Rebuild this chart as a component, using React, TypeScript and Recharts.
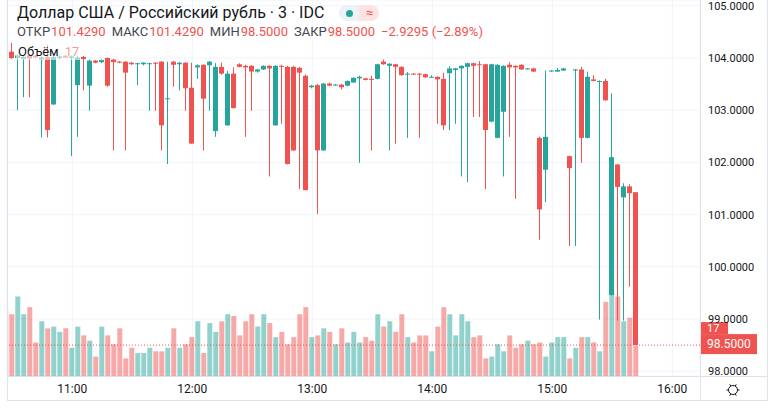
import React from 'react'
import {
  ComposedChart,
  Bar,
  XAxis,
  YAxis,
  CartesianGrid,
  ReferenceLine,
  Cell,
} from 'recharts'

const UP = '#26a69a'
const DOWN = '#ef5350'
const UP_VOL = 'rgba(38, 166, 154, 0.5)'
const DOWN_VOL = 'rgba(239, 83, 80, 0.5)'
const GRID = '#f0f3fa'
const BORDER = '#e0e3eb'
const TEXT = '#131722'
const FONT = 'Roboto, "Noto Sans", sans-serif'

// 3-minute bars, USD/RUB (IDC)
const times = [
  '10:27', '10:30', '10:33', '10:36', '10:39', '10:42', '10:45', '10:48', '10:51', '10:54', '10:57',
  '11:00', '11:03', '11:06', '11:09', '11:12', '11:15', '11:18', '11:21', '11:24', '11:27',
  '11:30', '11:33', '11:36', '11:39', '11:42', '11:45', '11:48', '11:51', '11:54', '11:57',
  '12:00', '12:03', '12:06', '12:09', '12:12', '12:15', '12:18', '12:21', '12:24', '12:27',
  '12:30', '12:33', '12:36', '12:39', '12:42', '12:45', '12:48', '12:51', '12:54', '12:57',
  '13:00', '13:03', '13:06', '13:09', '13:12', '13:15', '13:18', '13:21', '13:24', '13:27',
  '13:30', '13:33', '13:36', '13:39', '13:42', '13:45', '13:48', '13:51', '13:54', '13:57',
  '14:00', '14:03', '14:06', '14:09', '14:12', '14:15', '14:18', '14:21', '14:24', '14:27',
  '14:30', '14:33', '14:36', '14:39', '14:42', '14:45', '14:48', '14:51', '14:54', '14:57',
  '15:00', '15:03', '15:06', '15:09', '15:12', '15:15', '15:18', '15:21', '15:24', '15:27',
  '15:30', '15:33', '15:36', '15:39', '15:42',
]

const opens = [
  104.48, 104.12, 104.0, 103.98, 104.05, 104.04, 103.97, 104.02, 103.11, 104.0,
  104.04, 104.0, 103.48, 104.02, 103.47, 103.95, 103.92, 104.0, 103.97, 103.93,
  103.93, 103.91, 103.88, 103.88, 103.89, 103.91, 103.93, 103.21, 103.93, 103.88,
  103.91, 103.43, 103.82, 103.87, 103.86, 102.6, 103.83, 102.71, 103.7, 103.88,
  103.85, 103.85, 103.74, 103.78, 103.85, 102.71, 103.85, 103.83, 103.83, 103.81,
  103.66, 103.44, 103.48, 102.23, 103.51, 103.48, 103.49, 103.47, 103.53, 103.61,
  103.61, 103.6, 103.6, 103.93, 103.85, 103.88, 103.83, 103.69, 103.7, 103.7,
  103.69, 103.63, 103.64, 103.6, 103.71, 103.77, 103.8, 103.83, 103.9, 103.88,
  103.88, 102.78, 102.47, 102.97, 103.87, 103.85, 103.87, 103.79, 103.8, 102.47,
  101.86, 103.75, 103.74, 103.76, 102.12, 103.76, 103.78, 102.47, 103.59, 103.55,
  103.56, 99.46, 101.96, 101.33, 101.54, 101.429,
]

const highs = [
  104.5, 104.29, 104.06, 104.05, 104.07, 104.06, 104.03, 104.25, 104.04, 104.05,
  104.06, 104.05, 104.05, 104.04, 103.97, 103.96, 103.97, 104.01, 103.98, 103.94,
  103.94, 103.92, 103.91, 103.92, 103.91, 103.92, 103.94, 103.93, 103.94, 103.92,
  103.92, 103.91, 103.88, 103.88, 103.94, 103.9, 103.91, 103.75, 103.82, 103.9,
  103.87, 103.86, 103.79, 103.86, 103.86, 103.86, 103.87, 103.85, 103.85, 103.83,
  103.68, 103.48, 103.5, 103.52, 103.53, 103.5, 103.5, 103.57, 103.63, 103.66,
  103.62, 103.66, 103.89, 103.97, 103.9, 103.89, 103.84, 103.73, 103.71, 103.71,
  103.7, 103.67, 103.65, 103.72, 103.84, 103.81, 103.86, 103.91, 103.91, 103.94,
  103.89, 103.89, 103.88, 103.86, 103.92, 103.86, 103.88, 103.8, 103.81, 102.49,
  103.76, 103.77, 103.81, 103.81, 102.13, 103.79, 103.83, 103.74, 103.67, 103.57,
  103.6, 103.32, 101.97, 101.6, 101.58, 101.429,
]

const lows = [
  104.17, 103.98, 103.0, 103.25, 103.25, 103.99, 102.48, 102.48, 103.1, 103.98,
  104.0, 102.12, 102.49, 103.38, 102.99, 103.9, 103.9, 103.45, 102.23, 103.9,
  102.23, 103.87, 103.48, 103.86, 102.99, 102.99, 102.23, 101.97, 103.45, 103.38,
  102.99, 102.36, 103.6, 102.23, 102.99, 102.49, 103.68, 102.7, 103.03, 103.82,
  102.49, 102.99, 103.72, 103.77, 101.73, 102.7, 102.74, 101.96, 102.22, 101.49,
  101.46, 103.42, 101.01, 102.22, 103.46, 103.47, 103.4, 103.46, 103.52, 101.99,
  103.57, 102.23, 103.59, 103.87, 102.23, 102.36, 103.66, 102.47, 103.68, 102.47,
  103.62, 103.62, 102.74, 102.62, 102.62, 102.74, 101.73, 101.62, 102.87, 102.87,
  101.49, 102.77, 102.46, 101.73, 102.49, 101.3, 103.77, 103.78, 103.73, 100.52,
  101.24, 103.74, 103.73, 103.75, 100.4, 100.4, 101.99, 102.46, 103.55, 98.99,
  103.18, 99.45, 98.97, 98.97, 99.62, 98.5,
]

const closes = [
  104.19, 104.0, 104.05, 104.02, 103.99, 104.01, 104.01, 102.62, 104.02, 104.03,
  104.01, 104.03, 104.01, 103.98, 103.95, 103.91, 103.96, 103.47, 103.92, 103.91,
  103.72, 103.88, 103.9, 103.91, 103.9, 103.89, 102.71, 103.23, 103.87, 103.91,
  103.42, 102.36, 103.86, 103.22, 103.93, 103.83, 103.7, 103.7, 103.04, 103.83,
  103.82, 103.74, 103.78, 103.85, 103.8, 103.85, 103.84, 101.97, 102.23, 103.72,
  101.47, 103.47, 102.23, 103.51, 103.47, 103.49, 103.44, 103.56, 103.62, 103.64,
  103.58, 103.58, 103.88, 103.88, 103.89, 103.83, 103.67, 103.7, 103.69, 103.69,
  103.63, 103.64, 103.59, 102.71, 103.8, 103.8, 103.85, 103.9, 103.85, 103.87,
  102.62, 103.88, 103.87, 103.85, 103.82, 103.82, 103.78, 103.8, 103.74, 101.1,
  102.49, 103.76, 103.77, 103.8, 101.89, 103.78, 102.47, 103.64, 103.56, 103.56,
  103.19, 102.1, 101.53, 101.54, 101.41, 98.5,
]

const volumes = [
  37, 35, 45, 35, 39, 19, 31, 27, 28, 25,
  27, 16, 28, 23, 20, 11, 28, 23, 18, 27,
  10, 16, 13, 13, 16, 14, 14, 16, 27, 16,
  18, 22, 31, 13, 30, 25, 31, 35, 34, 23,
  31, 35, 28, 35, 30, 22, 25, 18, 22, 35,
  39, 22, 23, 27, 25, 18, 27, 19, 25, 19,
  22, 20, 35, 28, 31, 25, 35, 22, 19, 23,
  23, 14, 28, 39, 35, 23, 35, 31, 22, 23,
  10, 11, 18, 14, 23, 16, 18, 20, 18, 19,
  11, 19, 22, 22, 10, 16, 22, 22, 19, 14,
  42, 47, 45, 31, 33, 17,
]

const hourTicks = ['11:00', '12:00', '13:00', '14:00', '15:00', '16:00']
const priceTicks = [98, 99, 100, 101, 102, 103, 104, 105]

const lastOpen = 101.429
const lastHigh = 101.429
const lastLow = 98.5
const lastClose = 98.5
const lastVolume = 17
const change = -2.9295
const changePct = -2.89

const toMin = (s: string) => {
  const [h, m] = s.split(':').map(Number)
  return h * 60 + m
}
const fromMin = (v: number) =>
  `${Math.floor(v / 60)}:${String(Math.round(v % 60)).padStart(2, '0')}`

const candles = times.map((t, i) => ({
  t: toMin(t),
  o: opens[i],
  h: highs[i],
  l: lows[i],
  c: closes[i],
  v: volumes[i],
}))

const X_DOMAIN: [number, number] = [627.35, 973.85]
const PRICE_DOMAIN: [number, number] = [97.908, 105.111]
const VOL_DOMAIN: [number, number] = [0, 213]

function Candle(props: any) {
  const { x, y, width, height, payload } = props
  if (payload == null || x == null) return null
  const { o, h, l, c } = payload
  const top = Math.min(y, y + height)
  const bottom = Math.max(y, y + height)
  const toY = (p: number) => (h === l ? top : top + ((h - p) / (h - l)) * (bottom - top))
  const color = c >= o ? UP : DOWN
  const left = Math.round(x + width / 2 - 2.5)
  const yo = toY(o)
  const yc = toY(c)
  return (
    <g>
      <rect x={left + 2} y={top} width={1} height={Math.max(1, bottom - top)} fill={color} />
      <rect
        x={left}
        y={Math.min(yo, yc)}
        width={5}
        height={Math.max(1, Math.abs(yo - yc))}
        fill={color}
      />
    </g>
  )
}

function PriceTags(props: any) {
  const vb = props.viewBox
  if (!vb) return null
  const xr = vb.x + vb.width
  const y = vb.y
  return (
    <g fontFamily={FONT}>
      <rect x={xr} y={y - 23} width={28} height={12} fill={DOWN} />
      <text x={xr + 7} y={y - 17} dy="0.35em" fill="#fff" fontSize={11}>{lastVolume}</text>
      <rect x={xr} y={y - 11} width={57} height={20} fill={DOWN} />
      <text x={xr + 7} y={y - 1} dy="0.35em" fill="#fff" fontSize={12}>{lastClose.toFixed(4)}</text>
    </g>
  )
}

const line = (style: React.CSSProperties) => (
  <div style={{ position: 'absolute', background: BORDER, ...style }} />
)

function Ohlc({ label, value }: { label: string; value: number }) {
  return (
    <span style={{ marginRight: 6 }}>
      <span style={{ color: '#434651' }}>{label}</span>
      <span style={{ color: DOWN, marginLeft: 1 }}>{value.toFixed(4)}</span>
    </span>
  )
}

export default function App() {
  return (
    <div
      style={{
        position: 'absolute',
        left: 0,
        top: 0,
        width: 780,
        height: 408,
        background: '#fff',
        overflow: 'hidden',
        fontFamily: FONT,
      }}
    >
      <ComposedChart
        width={780}
        height={408}
        data={candles}
        margin={{ top: 0, right: 13, bottom: 8, left: 7 }}
      >
        <CartesianGrid xAxisId="t" yAxisId="p" stroke={GRID} />
        <XAxis
          xAxisId="t"
          dataKey="t"
          type="number"
          domain={X_DOMAIN}
          allowDataOverflow
          ticks={hourTicks.map(toMin)}
          tickFormatter={fromMin}
          axisLine={false}
          tickLine={false}
          height={24}
          tick={{ fill: TEXT, fontSize: 12, fontFamily: FONT }}
        />
        <XAxis
          xAxisId="tv"
          dataKey="t"
          type="number"
          domain={X_DOMAIN}
          allowDataOverflow
          hide
        />
        <YAxis
          yAxisId="p"
          orientation="right"
          type="number"
          domain={PRICE_DOMAIN}
          allowDataOverflow
          ticks={priceTicks}
          tickFormatter={(v: number) => v.toFixed(4)}
          axisLine={false}
          tickLine={false}
          width={67}
          tick={{ fill: TEXT, fontSize: 11, fontFamily: FONT }}
        />
        <YAxis yAxisId="v" type="number" domain={VOL_DOMAIN} allowDataOverflow hide />
        <Bar
          xAxisId="tv"
          yAxisId="v"
          dataKey="v"
          barSize={5}
          isAnimationActive={false}
        >
          {candles.map((d, i) => (
            <Cell key={i} fill={d.c >= d.o ? UP_VOL : DOWN_VOL} />
          ))}
        </Bar>
        <Bar
          xAxisId="t"
          yAxisId="p"
          dataKey={(d: any) => [d.l, d.h]}
          barSize={5}
          shape={<Candle />}
          isAnimationActive={false}
        />
        <ReferenceLine
          xAxisId="t"
          yAxisId="p"
          y={lastClose}
          stroke={DOWN}
          strokeDasharray="1 2"
          label={<PriceTags />}
        />
      </ComposedChart>

      {line({ left: 7, top: 0, width: 1, height: 400 })}
      {line({ left: 700, top: 0, width: 1, height: 400 })}
      {line({ left: 767, top: 0, width: 1, height: 400 })}
      {line({ left: 7, top: 376, width: 760, height: 1 })}
      {line({ left: 7, top: 400, width: 761, height: 1 })}

      <div
        style={{
          position: 'absolute',
          left: 17,
          top: 3,
          display: 'flex',
          alignItems: 'center',
          color: TEXT,
          fontSize: 16,
          lineHeight: '20px',
        }}
      >
        <span>Доллар США / Российский рубль · 3 · IDC</span>
        <span
          style={{
            display: 'inline-flex',
            marginLeft: 15,
            height: 16,
            borderRadius: 8,
            overflow: 'hidden',
          }}
        >
          <span style={{ width: 20, background: '#eef1f6', display: 'flex', alignItems: 'center', justifyContent: 'center' }}>
            <span style={{ width: 7, height: 7, borderRadius: 4, background: UP }} />
          </span>
          <span style={{ width: 20, background: '#fde3e3', color: DOWN, fontSize: 13, display: 'flex', alignItems: 'center', justifyContent: 'center' }}>
            ≈
          </span>
        </span>
      </div>

      <div
        style={{
          position: 'absolute',
          left: 17,
          top: 24,
          fontSize: 13,
          lineHeight: '16px',
          whiteSpace: 'nowrap',
        }}
      >
        <Ohlc label="ОТКР" value={lastOpen} />
        <Ohlc label="МАКС" value={lastHigh} />
        <Ohlc label="МИН" value={lastLow} />
        <Ohlc label="ЗАКР" value={lastClose} />
        <span style={{ color: DOWN }}>
          {`−${Math.abs(change).toFixed(4)} (−${Math.abs(changePct).toFixed(2)}%)`}
        </span>
      </div>

      <div
        style={{
          position: 'absolute',
          left: 16,
          top: 44,
          fontSize: 13,
          lineHeight: '16px',
          padding: '0 2px',
          background: 'rgba(255,255,255,0.55)',
        }}
      >
        <span style={{ color: TEXT }}>Объём</span>
        <span style={{ color: 'rgba(239, 83, 80, 0.6)', marginLeft: 6 }}>{lastVolume}</span>
      </div>

      <svg
        style={{ position: 'absolute', left: 725, top: 382 }}
        width={16}
        height={16}
        viewBox="0 0 16 16"
      >
        <circle cx={8} cy={8} r={4.5} fill="none" stroke={TEXT} strokeWidth={1} />
        {[0, 60, 120, 180, 240, 300].map(a => (
          <line
            key={a}
            x1={8 + 4.5 * Math.cos((a * Math.PI) / 180)}
            y1={8 + 4.5 * Math.sin((a * Math.PI) / 180)}
            x2={8 + 6.5 * Math.cos((a * Math.PI) / 180)}
            y2={8 + 6.5 * Math.sin((a * Math.PI) / 180)}
            stroke={TEXT}
            strokeWidth={1}
          />
        ))}
      </svg>
    </div>
  )
}
